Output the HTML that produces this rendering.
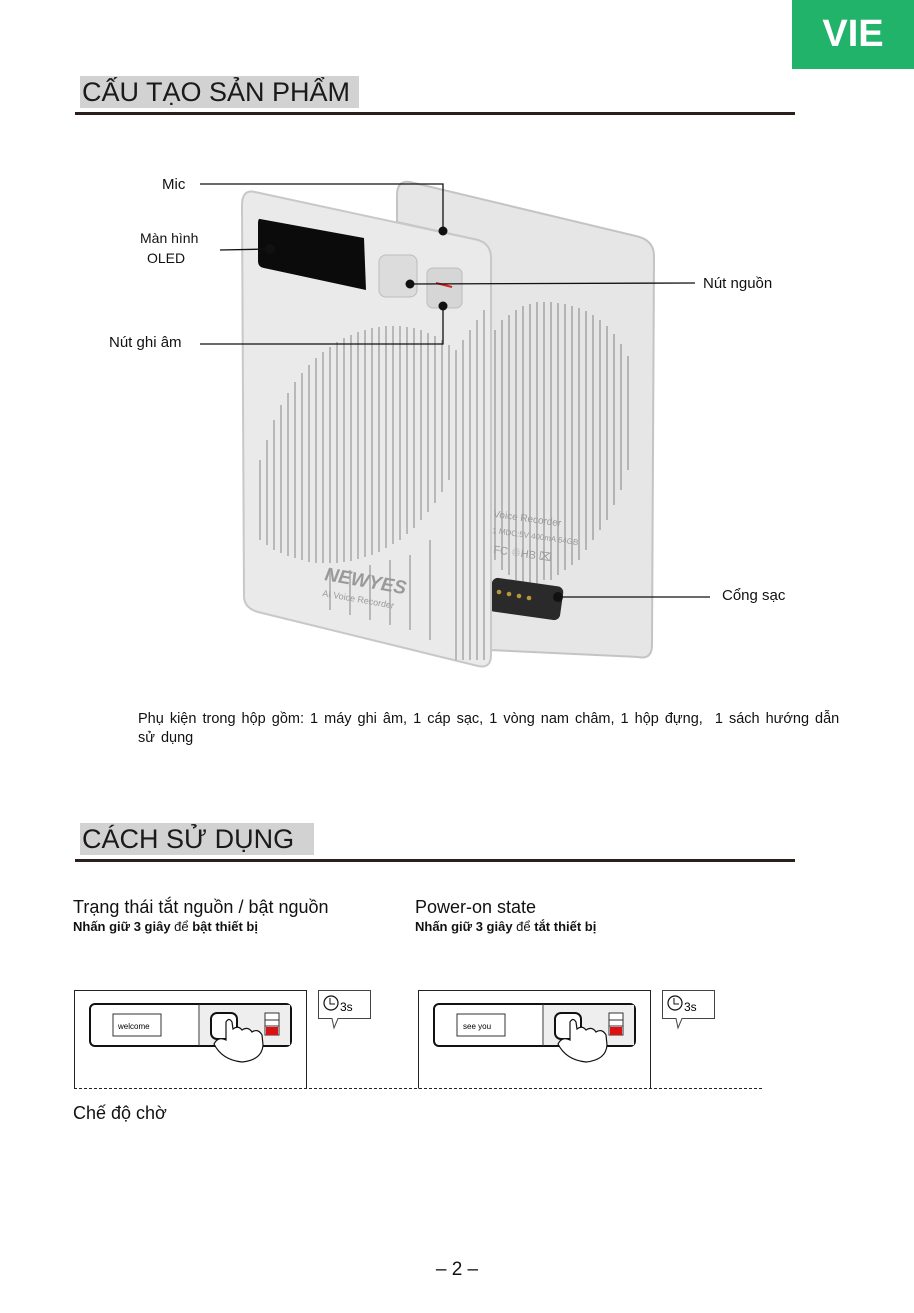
<!DOCTYPE html>
<html><head><meta charset="utf-8">
<style>
html,body{margin:0;padding:0;background:#fff;}
body{width:914px;height:1313px;position:relative;overflow:hidden;font-family:"Liberation Sans",Arial,sans-serif;color:#111;}
.abs{position:absolute;}
.hd{position:absolute;background:#d2d2d2;font-size:27px;line-height:32px;padding-left:2px;color:#1a1a1a;}
.rule{position:absolute;height:3px;background:#2a1f1c;}
</style></head><body>
<div class="abs" style="left:792px;top:0;width:122px;height:69px;background:#22b36a;color:#fff;font-weight:bold;font-size:38px;line-height:69px;text-align:center;">VIE</div>

<div class="hd" style="left:80px;top:76px;width:277px;height:32px;">CẤU TẠO SẢN PHẨM</div>
<div class="rule" style="left:75px;top:112px;width:720px;"></div>

<svg class="abs" style="left:0;top:0" width="914" height="1313">
<defs>
<clipPath id="cf"><path d="M255,192 L478,240 Q490,244 490,258 L490,655 Q490,668 478,666 L258,612 Q245,608 245,596 L243,205 Q243,190 255,192 Z"/></clipPath>
<clipPath id="cb"><path d="M410,182 L636,236 Q652,240 652,256 L650,645 Q650,658 638,656 L490,650 L490,258 Q490,244 478,240 L397,222 L397,195 Q397,180 410,182 Z"/></clipPath>
</defs>
<path d="M410,182 L636,236 Q654,240 654,256 L652,645 Q652,660 638,657 L490,650 L490,258 Q490,244 478,240 L397,222 L397,195 Q397,180 410,182 Z" fill="#e6e6e6" stroke="#c4c4c4" stroke-width="2"/>
<g clip-path="url(#cb)" stroke="#a8a8a8" stroke-width="1.6">
<line x1="495" y1="330" x2="495" y2="560"/><line x1="502" y1="320" x2="502" y2="570"/><line x1="509" y1="315" x2="509" y2="575"/><line x1="516" y1="310" x2="516" y2="580"/><line x1="523" y1="306" x2="523" y2="585"/><line x1="530" y1="304" x2="530" y2="585"/><line x1="537" y1="302" x2="537" y2="585"/><line x1="544" y1="302" x2="544" y2="580"/><line x1="551" y1="302" x2="551" y2="580"/><line x1="558" y1="303" x2="558" y2="575"/><line x1="565" y1="304" x2="565" y2="570"/><line x1="572" y1="306" x2="572" y2="565"/><line x1="579" y1="308" x2="579" y2="560"/><line x1="586" y1="311" x2="586" y2="550"/><line x1="593" y1="315" x2="593" y2="540"/><line x1="600" y1="320" x2="600" y2="530"/><line x1="607" y1="326" x2="607" y2="520"/><line x1="614" y1="334" x2="614" y2="505"/><line x1="621" y1="344" x2="621" y2="490"/><line x1="628" y1="356" x2="628" y2="470"/>
</g>
<text x="493" y="517" font-size="10" fill="#999" transform="rotate(8 493 517)">Voice Recorder</text>
<text x="492" y="533" font-size="8" fill="#999" transform="rotate(8 492 533)">1 MDC:5V  400mA  64GB</text>
<text x="493" y="553" font-size="11" fill="#999" transform="rotate(8 493 553)">FC  ♲HB  ⌧</text>
<rect x="490" y="582" width="72" height="34" rx="6" fill="#2a2a2a" transform="rotate(8 526 599)"/>
<g fill="#b8963a"><circle cx="499" cy="592" r="2.3"/><circle cx="509" cy="594" r="2.3"/><circle cx="519" cy="596" r="2.3"/><circle cx="529" cy="598" r="2.3"/></g>
<path d="M255,192 L478,240 Q491,244 491,258 L491,655 Q491,669 478,666 L258,612 Q244,608 244,596 L242,205 Q242,189 255,192 Z" fill="#eaeaea" stroke="#c8c8c8" stroke-width="2"/>
<g clip-path="url(#cf)" stroke="#ababab" stroke-width="1.6">
<line x1="260" y1="460" x2="260" y2="540"/><line x1="267" y1="440" x2="267" y2="545"/><line x1="274" y1="420" x2="274" y2="550"/><line x1="281" y1="405" x2="281" y2="553"/><line x1="288" y1="393" x2="288" y2="556"/><line x1="295" y1="382" x2="295" y2="558"/><line x1="302" y1="373" x2="302" y2="560"/><line x1="309" y1="365" x2="309" y2="562"/><line x1="316" y1="358" x2="316" y2="563"/><line x1="323" y1="352" x2="323" y2="563"/><line x1="330" y1="347" x2="330" y2="563"/><line x1="337" y1="342" x2="337" y2="563"/><line x1="344" y1="338" x2="344" y2="562"/><line x1="351" y1="335" x2="351" y2="561"/><line x1="358" y1="332" x2="358" y2="559"/><line x1="365" y1="330" x2="365" y2="557"/><line x1="372" y1="328" x2="372" y2="555"/><line x1="379" y1="327" x2="379" y2="552"/><line x1="386" y1="326" x2="386" y2="548"/><line x1="393" y1="326" x2="393" y2="544"/><line x1="400" y1="326" x2="400" y2="540"/><line x1="407" y1="327" x2="407" y2="534"/><line x1="414" y1="328" x2="414" y2="528"/><line x1="421" y1="330" x2="421" y2="520"/><line x1="428" y1="333" x2="428" y2="512"/><line x1="435" y1="336" x2="435" y2="503"/><line x1="442" y1="340" x2="442" y2="492"/><line x1="449" y1="345" x2="449" y2="480"/><line x1="456" y1="350" x2="456" y2="660"/><line x1="463" y1="340" x2="463" y2="660"/><line x1="470" y1="330" x2="470" y2="660"/><line x1="477" y1="320" x2="477" y2="660"/><line x1="484" y1="310" x2="484" y2="660"/>
<line x1="330" y1="570" x2="330" y2="610"/><line x1="350" y1="570" x2="350" y2="615"/><line x1="370" y1="565" x2="370" y2="620"/><line x1="390" y1="560" x2="390" y2="625"/><line x1="410" y1="555" x2="410" y2="630"/><line x1="430" y1="540" x2="430" y2="640"/>
</g>
<path d="M260,219 L364,238 L366,290 L264,268 Q258,267 258,261 L258,224 Q258,218 260,219Z" fill="#0b0b0b"/>
<rect x="379" y="255" width="38" height="42" rx="7" fill="#dcdcdc" stroke="#bcbcbc"/>
<rect x="427" y="268" width="35" height="40" rx="6" fill="#d6d6d6" stroke="#bcbcbc"/>
<line x1="436" y1="283" x2="452" y2="287" stroke="#d22" stroke-width="2"/>
<text x="324" y="580" font-size="19" font-weight="bold" font-style="italic" fill="#9a9a9a" transform="rotate(10 324 580)">NEWYES</text>
<text x="322" y="596" font-size="9" fill="#9a9a9a" transform="rotate(10 322 596)">AI Voice Recorder</text>

<g stroke="#111" stroke-width="1.3" fill="none">
<polyline points="200,184 443,184 443,232"/>
<line x1="220" y1="250" x2="270" y2="249"/>
<line x1="410" y1="284" x2="695" y2="283"/>
<polyline points="200,344 443,344 443,306"/>
<line x1="558" y1="597" x2="710" y2="597"/>
</g>
<g fill="#111"><circle cx="443" cy="231" r="4.5"/><circle cx="270" cy="249" r="5"/><circle cx="410" cy="284" r="4.5"/><circle cx="443" cy="306" r="4.5"/><circle cx="558" cy="597" r="5"/></g>
<g font-size="14" fill="#111">
<text x="162" y="189" font-size="15">Mic</text>
<text x="140" y="243">Màn hình</text>
<text x="147" y="263">OLED</text>
<text x="703" y="288" font-size="15">Nút nguồn</text>
<text x="109" y="347" font-size="15">Nút ghi âm</text>
<text x="722" y="600" font-size="15">Cổng sạc</text>
</g>

<g>
<path d="M74.5,1088.5 V990.5 H306.5 V1088.5" fill="#fff" stroke="#222"/>
<rect x="90" y="1004" width="201" height="42" rx="5" fill="#fff" stroke="#111" stroke-width="2"/>
<line x1="199" y1="1004" x2="199" y2="1046" stroke="#333"/>
<rect x="200" y="1005" width="90" height="40" fill="#eee"/>
<rect x="113" y="1014" width="48" height="22" fill="#fff" stroke="#333"/>
<rect x="211" y="1013" width="26" height="26" rx="6" fill="#fff" stroke="#111" stroke-width="2"/>
<path d="M226,1022 L226,1040 Q218,1036 214,1044 Q222,1060 242,1062 Q262,1060 263,1045 L262,1035 Q258,1028 252,1032 Q248,1026 242,1030 Q238,1025 233,1029 L232,1022 Q229,1017 226,1022Z" fill="#fff" stroke="#111" stroke-width="1.2"/>
<rect x="265" y="1013" width="14" height="22" fill="#fff" stroke="#333"/>
<line x1="265" y1="1020" x2="279" y2="1020" stroke="#333"/><line x1="265" y1="1026" x2="279" y2="1026" stroke="#333"/>
<rect x="266" y="1027" width="12" height="8" fill="#d11"/>
<path d="M318.5,990.5 H370.5 V1018.5 H338 L334,1028 L332,1018.5 H318.5Z" fill="#fff" stroke="#444"/>
<circle cx="331" cy="1003" r="7" fill="none" stroke="#111" stroke-width="1.2"/>
<polyline points="330,998 330,1004 335,1004" fill="none" stroke="#111"/>
</g>
<text x="118" y="1029" font-size="8">welcome</text>
<text x="340" y="1011" font-size="12">3s</text>
<g transform="translate(344,0)">
<path d="M74.5,1088.5 V990.5 H306.5 V1088.5" fill="#fff" stroke="#222"/>
<rect x="90" y="1004" width="201" height="42" rx="5" fill="#fff" stroke="#111" stroke-width="2"/>
<line x1="199" y1="1004" x2="199" y2="1046" stroke="#333"/>
<rect x="200" y="1005" width="90" height="40" fill="#eee"/>
<rect x="113" y="1014" width="48" height="22" fill="#fff" stroke="#333"/>
<rect x="211" y="1013" width="26" height="26" rx="6" fill="#fff" stroke="#111" stroke-width="2"/>
<path d="M226,1022 L226,1040 Q218,1036 214,1044 Q222,1060 242,1062 Q262,1060 263,1045 L262,1035 Q258,1028 252,1032 Q248,1026 242,1030 Q238,1025 233,1029 L232,1022 Q229,1017 226,1022Z" fill="#fff" stroke="#111" stroke-width="1.2"/>
<rect x="265" y="1013" width="14" height="22" fill="#fff" stroke="#333"/>
<line x1="265" y1="1020" x2="279" y2="1020" stroke="#333"/><line x1="265" y1="1026" x2="279" y2="1026" stroke="#333"/>
<rect x="266" y="1027" width="12" height="8" fill="#d11"/>
<path d="M318.5,990.5 H370.5 V1018.5 H338 L334,1028 L332,1018.5 H318.5Z" fill="#fff" stroke="#444"/>
<circle cx="331" cy="1003" r="7" fill="none" stroke="#111" stroke-width="1.2"/>
<polyline points="330,998 330,1004 335,1004" fill="none" stroke="#111"/>
<text x="340" y="1011" font-size="12">3s</text>
<text x="119" y="1029" font-size="8">see you</text>
</g>
<line x1="74" y1="1088.5" x2="764" y2="1088.5" stroke="#222" stroke-dasharray="3,2"/>
</svg>

<div class="abs" style="left:138px;top:710px;font-size:14.5px;line-height:19px;white-space:nowrap;word-spacing:2px;">Phụ kiện trong hộp gồm: 1 máy ghi âm, 1 cáp sạc, 1 vòng nam châm, 1 hộp đựng,&nbsp; 1 sách hướng dẫn<br>sử dụng</div>

<div class="hd" style="left:80px;top:823px;width:232px;height:32px;">CÁCH SỬ DỤNG</div>
<div class="rule" style="left:75px;top:859px;width:720px;"></div>

<div class="abs" style="left:73px;top:896px;font-size:18px;line-height:22px;">Trạng thái tắt nguồn / bật nguồn</div>
<div class="abs" style="left:73px;top:919px;font-size:13px;line-height:16px;"><b>Nhấn giữ 3 giây</b> để <b>bật thiết bị</b></div>
<div class="abs" style="left:415px;top:896px;font-size:18px;line-height:22px;">Power-on state</div>
<div class="abs" style="left:415px;top:919px;font-size:13px;line-height:16px;"><b>Nhấn giữ 3 giây</b> để <b>tắt thiết bị</b></div>
<div class="abs" style="left:73px;top:1102px;font-size:18px;line-height:22px;">Chế độ chờ</div>

<div class="abs" style="left:0;top:1259px;width:914px;text-align:center;font-size:19px;line-height:22px;">– 2 –</div>
</body></html>
